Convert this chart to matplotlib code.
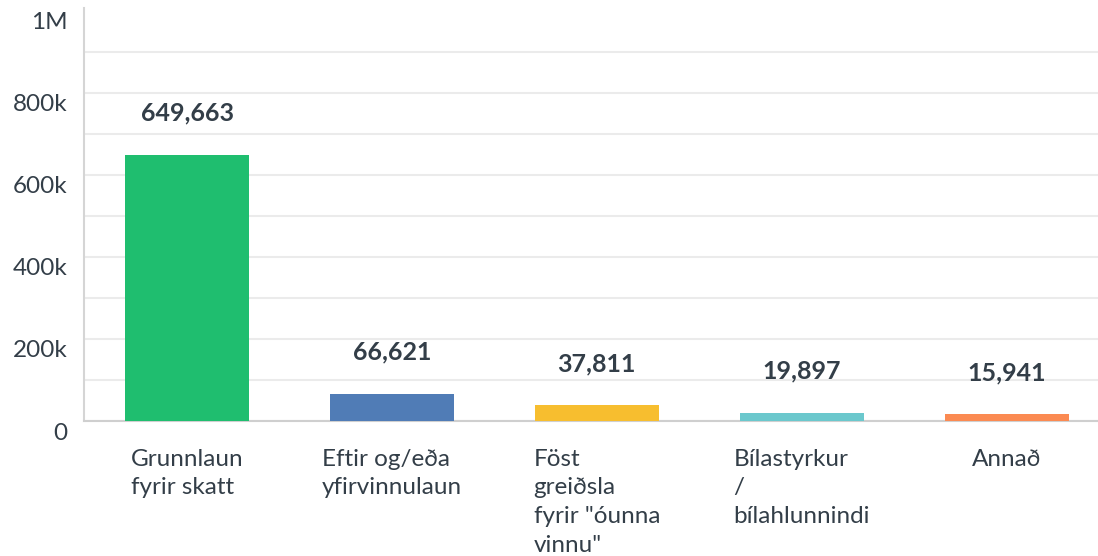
import matplotlib
matplotlib.use("Agg")
import matplotlib.pyplot as plt
import matplotlib.transforms as mtransforms
import numpy as np

# data
categories = ["Grunnlaun\nfyrir skatt",
              "Eftir og/eða\nyfirvinnulaun",
              "Föst\ngreiðsla\nfyrir \"óunna\nvinnu\"",
              "Bílastyrkur\n/\nbílahlunnindi",
              "Annað"]
values = [649663, 66621, 37811, 19897, 15941]
colors = ["#1fbe6f", "#507cb6", "#f7be2f", "#6bc8cd", "#fb8a52"]
ytick_vals = [0, 200000, 400000, 600000, 800000, 1000000]
ytick_labels = ["0", "200k", "400k", "600k", "800k", "1M"]

txt = "#333e48"
plt.rcParams['font.family'] = ['Lato', 'DejaVu Sans']

fig = plt.figure(figsize=(10.98, 5.56), dpi=100)
ax = fig.add_axes([84/1098, (556-421)/556, 1 - 84/1098, (421-8)/556])

x = np.arange(len(values))
ax.bar(x, values, width=0.605, color=colors, zorder=3)

for xi, v in zip(x, values):
    ax.annotate(f"{v:,}", (xi, v), xytext=(0, 30), textcoords="offset points",
                ha="center", va="center", fontsize=18, fontweight="bold", color=txt)

ax.set_xlim(-0.503, 4.446)
ax.set_ylim(0, 1.007e6)

ax.set_yticks(ytick_vals)
ax.set_yticklabels(ytick_labels, fontsize=17.5, color=txt)
ax.set_yticks(np.arange(100000, 1000000, 100000), minor=True)
ax.grid(axis="y", which="both", color="#ebebeb", linewidth=1.5, zorder=0)
ax.yaxis.get_major_ticks()[-1].gridline.set_visible(False)
ax.tick_params(axis="y", which="both", length=0, pad=12)

ax.set_xticks(x)
ax.set_xticklabels(categories, fontsize=17.5, color=txt, linespacing=1.45,
                   multialignment="left")
ax.tick_params(axis="x", length=0, pad=20)

off = mtransforms.ScaledTranslation(0, -10/100, fig.dpi_scale_trans)
for lab in ax.get_yticklabels():
    lab.set_transform(lab.get_transform() + off)

for s in ["top", "right"]:
    ax.spines[s].set_visible(False)
ax.spines["left"].set_color("#d5d5d5")
ax.spines["bottom"].set_color("#cfcfcf")
ax.spines["left"].set_linewidth(1.5)
ax.spines["bottom"].set_linewidth(1.5)

fig.savefig("out.png", dpi=100)
